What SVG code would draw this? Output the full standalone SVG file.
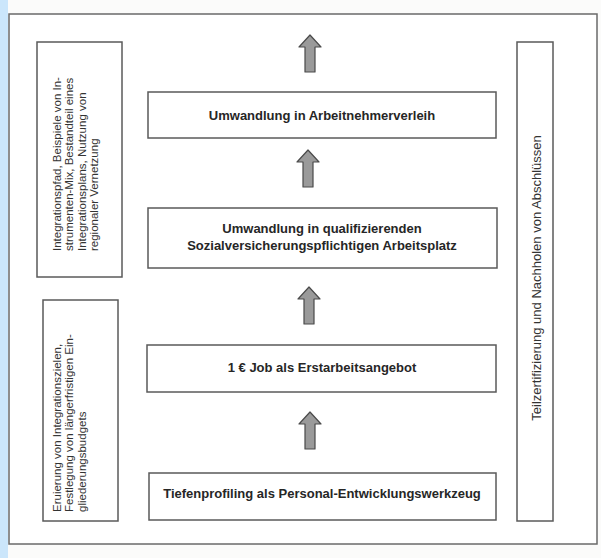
<svg xmlns="http://www.w3.org/2000/svg" width="601" height="558" viewBox="0 0 601 558">
<style>
.box{fill:#ffffff;stroke:#5a5a5a;stroke-width:1.5}
.frame{fill:#ffffff;stroke:#6a6a6a;stroke-width:1.5}
.t{font-family:"Liberation Sans",Arial,sans-serif;font-size:13px;font-weight:bold;fill:#262626;text-anchor:middle}
.s{font-family:"Liberation Sans",Arial,sans-serif;font-size:11.5px;fill:#333333}
.arrow{fill:#9a9a9a;stroke:#4a4a4a;stroke-width:1.2;stroke-linejoin:round}
</style>
<defs>
<path id="up" class="arrow" d="M0,0 L11,12 L5,12 L5,37 L-5,37 L-5,12 L-11,12 Z"/>
</defs>
<rect x="0" y="0" width="601" height="558" fill="#fbfbfa"/>
<rect x="0" y="0" width="8" height="558" fill="#cbe6fb"/>
<rect class="frame" x="9" y="14" width="588" height="530"/>
<g id="side-top">
<rect class="box" x="37" y="42" width="85" height="235"/>
<text class="s" transform="translate(61,251) rotate(-90)"><tspan x="0" y="0">Integrationspfad, Beispiele von In-</tspan><tspan x="0" y="12.3">strumenten-Mix, Bestandteil eines</tspan><tspan x="0" y="24.6">Integrationsplans, Nutzung von</tspan><tspan x="0" y="36.9">regionaler Vernetzung</tspan></text>
</g>
<g id="side-bottom">
<rect class="box" x="43" y="300" width="75" height="221"/>
<text class="s" transform="translate(61,512) rotate(-90)"><tspan x="0" y="0">Eruierung von Integrationszielen,</tspan><tspan x="0" y="12.3">Festlegung von längerfristigen Ein-</tspan><tspan x="0" y="24.6">gliederungsbudgets</tspan></text>
</g>
<g id="side-right">
<rect class="box" x="517" y="42" width="36" height="479"/>
<text class="s" style="font-size:13px;text-anchor:middle" transform="translate(540.5,278) rotate(-90)">Teilzertifizierung und Nachholen von Abschlüssen</text>
</g>
<g id="n1">
<rect class="box" x="148" y="92" width="348" height="46"/>
<text class="t" x="322" y="120">Umwandlung in Arbeitnehmerverleih</text>
</g>
<g id="n2">
<rect class="box" x="148" y="208" width="349" height="60"/>
<text class="t" x="322" y="233">Umwandlung in qualifizierenden</text>
<text class="t" x="322" y="250">Sozialversicherungspflichtigen Arbeitsplatz</text>
</g>
<g id="n3">
<rect class="box" x="147" y="345" width="349" height="47"/>
<text class="t" x="322" y="372">1 € Job als Erstarbeitsangebot</text>
</g>
<g id="n4">
<rect class="box" x="149" y="473" width="347" height="47"/>
<text class="t" x="322" y="498">Tiefenprofiling als Personal-Entwicklungswerkzeug</text>
</g>
<g id="connectors">
<use href="#up" x="310" y="35"/>
<use href="#up" x="308" y="150"/>
<use href="#up" x="309" y="287"/>
<use href="#up" x="310" y="412"/>
</g>
</svg>
